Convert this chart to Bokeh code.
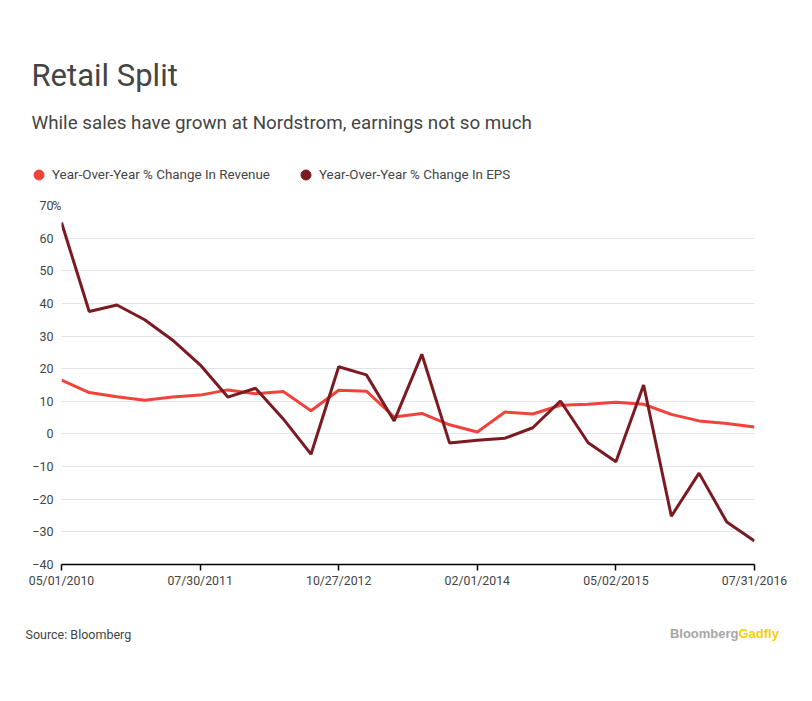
from bokeh.plotting import figure
from bokeh.models import Range1d, FixedTicker, Label, Legend, LegendItem, LinearAxis
from bokeh.embed import file_html
from bokeh.resources import INLINE

# Fiscal quarter end dates
dates = ["05/01/2010", "07/31/2010", "10/30/2010", "01/29/2011", "04/30/2011",
         "07/30/2011", "10/29/2011", "01/28/2012", "04/28/2012", "07/28/2012",
         "10/27/2012", "02/02/2013", "05/04/2013", "08/03/2013", "11/02/2013",
         "02/01/2014", "05/03/2014", "08/02/2014", "11/01/2014", "01/31/2015",
         "05/02/2015", "08/01/2015", "10/31/2015", "01/30/2016", "04/30/2016",
         "07/31/2016"]
revenue = [16.5, 12.7, 11.4, 10.3, 11.3, 11.9, 13.5, 12.3, 13.0, 7.1,
           13.4, 13.1, 5.2, 6.3, 2.8, 0.6, 6.7, 6.1, 8.8, 9.1,
           9.7, 9.1, 6.0, 4.0, 3.2, 2.1]
eps = [64.8, 37.5, 39.5, 35.0, 28.8, 21.2, 11.3, 14.0, 4.6, -6.2,
       20.6, 18.1, 4.0, 24.4, -2.8, -1.9, -1.3, 1.9, 10.1, -2.7,
       -8.5, 15.0, -25.2, -12.0, -27.0, -32.8]
y_ticks = [-40, -30, -20, -10, 0, 10, 20, 30, 40, 50, 60, 70]
x_tick_dates = ["05/01/2010", "07/30/2011", "10/27/2012", "02/01/2014", "05/02/2015", "07/31/2016"]
series_names = ["Year-Over-Year % Change In Revenue", "Year-Over-Year % Change In EPS"]

REV_COLOR = "#f2433b"
EPS_COLOR = "#7b1a21"
TEXT = "#444444"
FONT = "Roboto"
W = 812
H_HEAD, H_MAIN, H_FOOT = 190, 410, 101


def blank(h):
    f = figure(width=W, height=h, output_backend="svg", toolbar_location=None,
               x_axis_location=None, y_axis_location=None,
               x_range=Range1d(0, 1), y_range=Range1d(0, 1),
               min_border=0, min_border_left=0, min_border_right=0,
               min_border_top=0, min_border_bottom=0)
    f.outline_line_color = None
    f.grid.visible = False
    f.background_fill_color = "white"
    f.border_fill_color = "white"
    return f


def lab(f, xp, yp, text, size, color=TEXT, font=FONT, align="left", style="normal"):
    f.add_layout(Label(x=xp, y=yp, x_units="screen", y_units="screen", text=text,
                       text_font=font, text_font_size=size, text_color=color,
                       text_align=align, text_baseline="alphabetic",
                       text_font_style=style))


# ---------- header ----------
head = blank(H_HEAD)
lab(head, 31, 115, "Retail Split", "31px")
lab(head, 31, 68, "While sales have grown at Nordstrom, earnings not so much", "18.8px")
nan = float("nan")
r1 = head.scatter([nan], [nan], size=10, color=REV_COLOR)
r2 = head.scatter([nan], [nan], size=10, color=EPS_COLOR)
for r, name, loc in [(r1, series_names[0], (26, 3)), (r2, series_names[1], (293, 3))]:
    lg = Legend(items=[LegendItem(label=name, renderers=[r])], location=loc,
                orientation="horizontal", padding=0, margin=0, spacing=0,
                glyph_width=25, glyph_height=25, label_height=25,
                label_standoff=1, border_line_color=None,
                background_fill_alpha=0, label_text_font=FONT,
                label_text_font_size="13.4px", label_text_color=TEXT)
    head.add_layout(lg, "center")

# ---------- main chart ----------
p = figure(width=W, height=H_MAIN, output_backend="svg", toolbar_location=None,
           x_range=Range1d(0, len(dates) - 1), y_range=Range1d(-40, 70),
           y_axis_location=None,
           min_border_left=61, min_border_right=58, min_border_top=15,
           min_border_bottom=36)
p.outline_line_color = None
p.background_fill_color = "white"
p.border_fill_color = "white"

x = list(range(len(dates)))
p.line(x, revenue, line_color=REV_COLOR, line_width=3)
p.line(x, eps, line_color=EPS_COLOR, line_width=3)

xi = [dates.index(d) for d in x_tick_dates]
p.xaxis.ticker = FixedTicker(ticks=xi)
p.xaxis.major_label_overrides = {i: dates[i] for i in xi}
p.xaxis.axis_line_color = "black"
p.xaxis.axis_line_width = 1.5
p.xaxis.major_tick_line_color = "black"
p.xaxis.major_tick_line_width = 1.5
p.xaxis.major_tick_out = 6
p.xaxis.major_tick_in = 0
p.xaxis.minor_tick_line_color = None
p.xaxis.major_label_text_font = FONT
p.xaxis.major_label_text_font_size = "12.3px"
p.xaxis.major_label_text_color = TEXT
p.xaxis.major_label_standoff = 3

# unit axis ("%") next to the frame, value axis outside it
unit_axis = LinearAxis(ticker=FixedTicker(ticks=[y_ticks[-1]]),
                       major_label_overrides={y_ticks[-1]: "%"})
val_axis = LinearAxis(ticker=FixedTicker(ticks=y_ticks))
for ax, so in [(unit_axis, 0), (val_axis, -4)]:
    ax.axis_line_color = None
    ax.major_tick_line_color = None
    ax.minor_tick_line_color = None
    ax.major_tick_out = 0
    ax.major_tick_in = 0
    ax.major_label_standoff = so
    ax.major_label_text_font = FONT
    ax.major_label_text_font_size = "12.5px"
    ax.major_label_text_color = TEXT
p.add_layout(unit_axis, "left")
p.add_layout(val_axis, "left")

p.xgrid.grid_line_color = None
p.ygrid.ticker = FixedTicker(ticks=y_ticks)
p.ygrid.grid_line_color = "#e2e2ea"
p.ygrid.grid_line_width = 1

# ---------- footer ----------
foot = blank(H_FOOT)
lab(foot, 25, 67, "Source: Bloomberg", "12.5px")
lab(foot, 738, 68, "Bloomberg", "13px", color="#a6a6a6", font="Liberation Sans",
    align="right", style="bold")
lab(foot, 738, 68, "Gadfly", "13px", color="#f5cf00", font="Liberation Sans",
    align="left", style="bold")

open("out.html", "w").write(file_html([head, p, foot], INLINE))
